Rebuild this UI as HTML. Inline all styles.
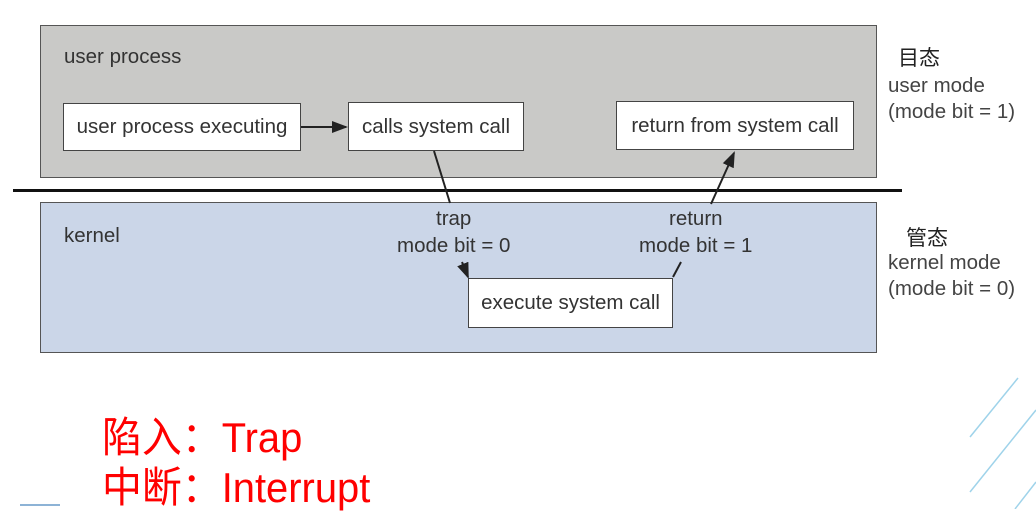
<!DOCTYPE html>
<html><head><meta charset="utf-8"><style>
body{margin:0;width:1036px;height:509px;background:#fff;position:relative;overflow:hidden;font-family:"Liberation Sans","Noto Sans CJK SC",sans-serif;color:#333}
.a{position:absolute;white-space:nowrap}
.box{position:absolute;background:#fff;border:1.5px solid #444;box-sizing:border-box;font-size:20.5px;display:flex;align-items:center;justify-content:center;color:#333}
.r{font-size:20.5px;color:#444}
.t{font-size:20.5px}
</style></head><body>
<div class="a" style="left:40px;top:25px;width:837px;height:153px;background:#c9c9c7;border:1.5px solid #555;box-sizing:border-box"></div>
<div class="a" style="left:13px;top:189px;width:889px;height:3px;background:#111"></div>
<div class="a" style="left:40px;top:202px;width:837px;height:151px;background:#cbd6e8;border:1.5px solid #555;box-sizing:border-box"></div>
<div class="a t" style="left:64px;top:45px">user process</div>
<div class="a t" style="left:64px;top:224px">kernel</div>
<div class="box" style="left:63px;top:103px;width:238px;height:48px">user process executing</div>
<div class="box" style="left:348px;top:102px;width:176px;height:49px">calls system call</div>
<div class="box" style="left:616px;top:101px;width:238px;height:49px">return from system call</div>
<div class="box" style="left:468px;top:278px;width:205px;height:50px">execute system call</div>
<div class="a t" style="left:436px;top:207px">trap</div>
<div class="a t" style="left:397px;top:234px">mode bit = 0</div>
<div class="a t" style="left:669px;top:207px">return</div>
<div class="a t" style="left:639px;top:234px">mode bit = 1</div>
<svg class="a" style="left:0;top:0" width="1036" height="509">
<defs><marker id="m" markerWidth="8" markerHeight="8" refX="7" refY="4" orient="auto"><path d="M0,1 L8,4 L0,7z" fill="#222"/></marker></defs>
<g stroke="#222" stroke-width="2" fill="none">
<line x1="301" y1="127" x2="346" y2="127" marker-end="url(#m)"/>
<line x1="434" y1="151" x2="450" y2="203"/>
<line x1="462" y1="262" x2="468" y2="277" marker-end="url(#m)"/>
<line x1="673" y1="277" x2="681" y2="262"/>
<line x1="711" y1="204" x2="734" y2="153" marker-end="url(#m)"/>
</g>
<g stroke="#9fd3ea" stroke-width="1.5">
<line x1="970" y1="437" x2="1018" y2="378"/>
<line x1="970" y1="492" x2="1036" y2="410"/>
<line x1="1015" y1="509" x2="1036" y2="482"/>
<line x1="20" y1="505" x2="60" y2="505" stroke="#8db3d6" stroke-width="2"/>
</g>
</svg>
<div class="a" style="left:898px;top:42px;font-size:21px;color:#222">目态</div>
<div class="a r" style="left:888px;top:74px">user mode</div>
<div class="a r" style="left:888px;top:100px">(mode bit = 1)</div>
<div class="a" style="left:906px;top:222px;font-size:21px;color:#222">管态</div>
<div class="a r" style="left:888px;top:251px">kernel mode</div>
<div class="a r" style="left:888px;top:277px">(mode bit = 0)</div>
<div class="a" style="left:102px;top:404px;font-size:42px;color:#f00;transform:scaleX(0.95);transform-origin:left">陷入：Trap</div>
<div class="a" style="left:102px;top:454px;font-size:42px;color:#f00;transform:scaleX(0.95);transform-origin:left">中断：Interrupt</div>
</body></html>
